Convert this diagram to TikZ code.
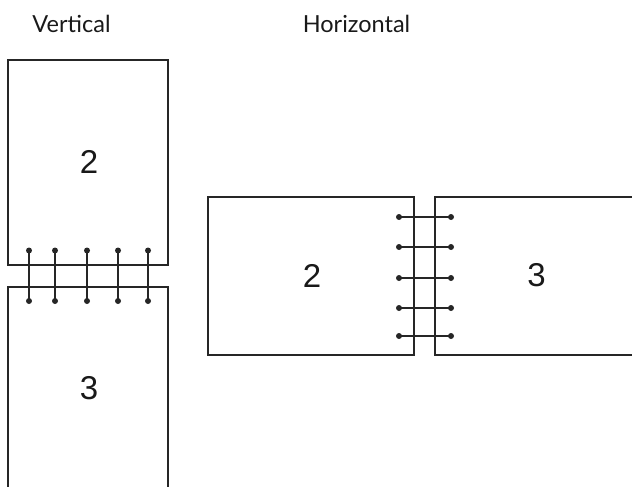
\documentclass[tikz,border=0pt]{standalone}
\usepackage{fontspec}
\setmainfont{Liberation Sans}
\newfontfamily\titlefont{Lato}
\begin{document}
\begin{tikzpicture}[x=1pt,y=-1pt,
  page/.style={draw=black!85,line width=2.1pt,line join=miter},
  ring/.style={draw=black!85,line width=2.1pt},
  hole/.style={fill=black!85,draw=none},
  title/.style={font=\titlefont\fontsize{23.5}{26}\selectfont,text=black!90,inner sep=0pt},
  pagenum/.style={font=\fontsize{33}{36}\selectfont,text=black!90,inner sep=0pt}]
\useasboundingbox (0,0) rectangle (632,487);
% titles
\node[title] (tv) at (71.5,24) {Vertical};
\node[title] (th) at (356.5,24) {Horizontal};
% vertical binding pages
\draw[page] (8,60) rectangle (168,265);
\draw[page] (8,490) -- (8,287) -- (168,287) -- (168,490);
\node[pagenum] (v2) at (89,162) {2};
\node[pagenum] (v3) at (89,388) {3};
\foreach \x in {29,55,87,118,148}{
  \coordinate (a\x) at (\x,250.5);
  \coordinate (b\x) at (\x,301);
  \draw[ring] (a\x) -- (b\x);
  \fill[hole] (a\x) circle (3);
  \fill[hole] (b\x) circle (3);
}
% horizontal binding pages
\draw[page] (208,197) rectangle (414,355);
\draw[page] (635,197) -- (435,197) -- (435,355) -- (635,355);
\node[pagenum] (h2) at (312,275.5) {2};
\node[pagenum] (h3) at (536.5,275.5) {3};
\foreach \y in {217,247,278,308,336}{
  \coordinate (l\y) at (399,\y);
  \coordinate (r\y) at (451,\y);
  \draw[ring] (l\y) -- (r\y);
  \fill[hole] (l\y) circle (3);
  \fill[hole] (r\y) circle (3);
}
\end{tikzpicture}
\end{document}
